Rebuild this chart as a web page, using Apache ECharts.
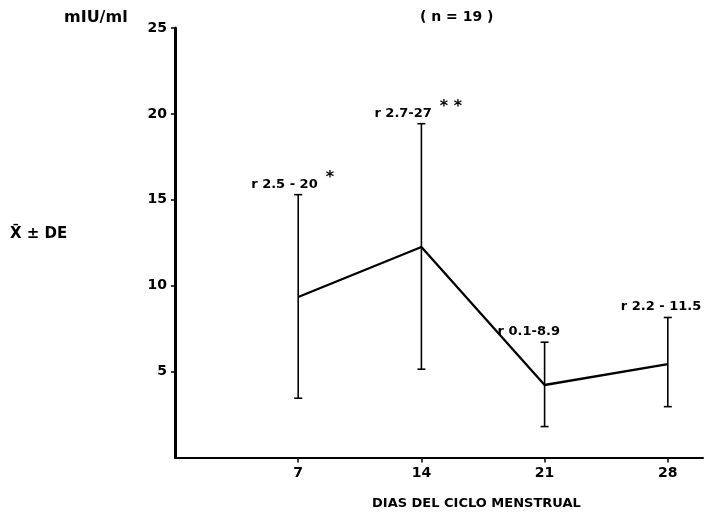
<!DOCTYPE html>
<html>
<head>
<meta charset="utf-8">
<script src="https://cdn.jsdelivr.net/npm/echarts@6/dist/echarts.min.js"></script>
<style>html,body{margin:0;padding:0;background:#fff;}#c{width:705px;height:515px;}</style>
</head>
<body>
<div id="c"></div>
<script>
var days = [7, 14, 21, 28];
var means = [9.34, 12.25, 4.22, 5.43];
var upper = [15.3, 19.43, 6.71, 8.15];
var lower = [3.45, 5.14, 1.8, 2.96];
var rangeLabels = ['r 2.5 - 20', 'r 2.7-27', 'r 0.1-8.9', 'r 2.2 - 11.5'];
var stars = ['*', '**', '', ''];
var xTicks = [7, 14, 21, 28];
var yTicks = [5, 10, 15, 20, 25];

var FONT = '"DejaVu Sans", Verdana, sans-serif';
var LABEL_FONT = 'bold 13px ' + FONT;
var measureCtx = document.createElement('canvas').getContext('2d');
function textWidth(t, f) { measureCtx.font = f; return measureCtx.measureText(t).width; }

var chart = echarts.init(document.getElementById('c'), null, {renderer: 'canvas'});

var errData = days.map(function (d, i) { return [d, lower[i], upper[i], i]; });

chart.setOption({
  animation: false,
  backgroundColor: '#fff',
  grid: {left: 175, right: 2, top: 28, bottom: 57.5, containLabel: false},
  xAxis: {
    type: 'value', min: 0, max: 30,
    splitLine: {show: false},
    axisLine: {lineStyle: {color: '#000', width: 2}},
    axisTick: {show: true, length: 5, lineStyle: {color: '#000', width: 1.5}, customValues: xTicks},
    axisLabel: {color: '#000', fontFamily: FONT, fontWeight: 'bold', fontSize: 14, margin: 9, customValues: xTicks}
  },
  yAxis: {
    type: 'value', min: 0, max: 25, interval: 5,
    splitLine: {show: false},
    axisLine: {show: true, lineStyle: {color: '#000', width: 3}},
    axisTick: {show: true, length: 4, lineStyle: {color: '#000', width: 1.5}, customValues: yTicks},
    axisLabel: {color: '#000', fontFamily: FONT, fontWeight: 'bold', fontSize: 14, margin: 8, customValues: yTicks}
  },
  graphic: [
    {type: 'text', left: 64, top: 10, style: {text: 'mIU/ml', font: 'bold 16px ' + FONT, fill: '#000'}},
    {type: 'text', left: 420, top: 10, style: {text: '( n = 19 )', font: 'bold 14px ' + FONT, fill: '#000'}},
    {type: 'text', left: 10, top: 227, style: {text: 'X\u0304 \u00B1 DE', font: 'bold 15px ' + FONT, fill: '#000'}},
    {type: 'text', left: 372, top: 497, style: {text: 'DIAS DEL CICLO MENSTRUAL', font: 'bold 13px ' + FONT, fill: '#000'}}
  ],
  series: [
    {
      type: 'line',
      data: days.map(function (d, i) { return [d, means[i]]; }),
      showSymbol: false,
      symbol: 'none',
      lineStyle: {color: '#000', width: 2.3},
      z: 3
    },
    {
      type: 'custom',
      data: errData,
      z: 4,
      renderItem: function (params, api) {
        var x = api.value(0);
        var lo = api.coord([x, api.value(1)]);
        var hi = api.coord([x, api.value(2)]);
        var idx = api.value(3);
        var cap = 4;
        var st = {stroke: '#000', lineWidth: 1.6};
        var lx = hi[0] - 47;
        var children = [
          {type: 'line', shape: {x1: hi[0], y1: hi[1], x2: lo[0], y2: lo[1]}, style: st},
          {type: 'line', shape: {x1: hi[0] - cap, y1: hi[1], x2: hi[0] + cap, y2: hi[1]}, style: st},
          {type: 'line', shape: {x1: lo[0] - cap, y1: lo[1], x2: lo[0] + cap, y2: lo[1]}, style: st},
          {
            type: 'text', x: lx, y: hi[1] - 4,
            style: {text: rangeLabels[idx], font: LABEL_FONT, fill: '#000', align: 'left', verticalAlign: 'bottom'}
          }
        ];
        if (stars[idx]) {
          children.push({
            type: 'text',
            x: lx + textWidth(rangeLabels[idx], LABEL_FONT) + 8,
            y: hi[1] - 9,
            style: {text: stars[idx].split('').join(' '), font: 'bold 16px ' + FONT, fill: '#000', align: 'left', verticalAlign: 'bottom'}
          });
        }
        return {type: 'group', children: children};
      }
    }
  ]
});
</script>
</body>
</html>
